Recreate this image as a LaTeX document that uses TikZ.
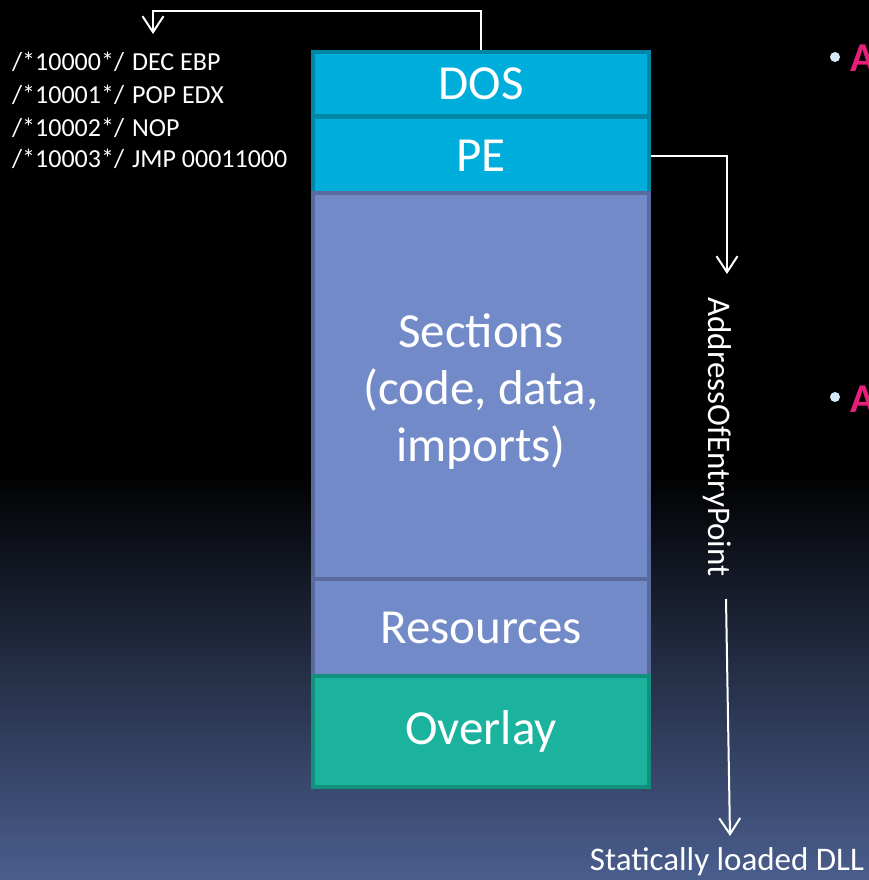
\documentclass[tikz,border=0pt]{standalone}
\usepackage{fontspec}
\setmainfont{Carlito}
\usetikzlibrary{arrows.meta}
\definecolor{bgbot}{HTML}{4A5E8E}
\definecolor{dosfill}{HTML}{00AEDB}
\definecolor{dosline}{HTML}{0087A8}
\definecolor{secfill}{HTML}{728AC8}
\definecolor{secline}{HTML}{5B6A9E}
\definecolor{ovfill}{HTML}{1BB39E}
\definecolor{ovline}{HTML}{12907E}
\definecolor{pinkA}{HTML}{E91E7A}
\definecolor{bulletc}{HTML}{D4EAFA}
\begin{document}
\begin{tikzpicture}[x=1pt,y=-1pt,
  seg/.style={rectangle, line width=4pt, minimum width=336pt, inner sep=0pt, text=white,
    font=\fontsize{49}{57}\selectfont, align=center},
  segtext/.style={inner sep=0pt, text=white, font=\fontsize{49}{57}\selectfont, align=center},
  arr/.style={draw=white, line width=2pt, -{Straight Barb[length=16pt,width=21pt,line width=2pt]}},
  code/.style={anchor=base west, text=white, inner sep=0pt, font=\fontsize{26}{30}\selectfont},
  lbl/.style={text=white, inner sep=0pt, font=\fontsize{33}{40}\selectfont},
  bul/.style={circle, fill=bulletc, minimum size=10pt, inner sep=0pt},
  pinkt/.style={anchor=base west, text=pinkA, inner sep=0pt, font=\fontsize{41}{48}\selectfont\bfseries}
]
\useasboundingbox (0,0) rectangle (869,880);
\fill[black] (0,0) rectangle (869,471);
\shade[top color=black, bottom color=bgbot] (0,470) rectangle (869,880);

% segments
\node[seg, fill=dosfill, draw=dosline, minimum height=64pt] (dos) at (481,84) {DOS};
\node[seg, fill=dosfill, draw=dosline, minimum height=77pt] (pe) at (481,155.5) {PE};
\node[seg, fill=secfill, draw=secline, minimum height=386pt] (sec) at (481,386) {};
\node[segtext] (sectext) at (481,392) {Sections\\(code, data,\\imports)};
\node[seg, fill=secfill, draw=secline, minimum height=97pt] (res) at (481,627.5) {Resources};
\node[seg, fill=ovfill, draw=ovline, minimum height=111pt] (ov) at (481,731.5) {Overlay};

% code listing
\node[code] (c1) at (12,71) {/*10000*/\hspace{8pt}DEC EBP};
\node[code] (c2) at (12,103) {/*10001*/\hspace{8pt}POP EDX};
\node[code] (c3) at (12,136) {/*10002*/\hspace{8pt}NOP};
\node[code] (c4) at (12,167) {/*10003*/\hspace{8pt}JMP 00011000};

% DOS arrow
\coordinate (dostop) at (481,11);
\coordinate (dosend) at (153,34);
\draw[arr] (dos.north) -- (dos.north |- dostop) -| (dosend);

% PE arrow
\coordinate (peend) at (727,274);
\draw[arr] (pe.east) -| (peend);

% AddressOfEntryPoint
\node[lbl, rotate=-90] (aoep) at (717,437) {AddressOfEntryPoint};

% DLL arrow
\coordinate (dllstart) at (726,599);
\coordinate (dllend) at (730,836);
\draw[arr] (dllstart) -- (dllend);
\node[lbl] (dll) at (727,862) {Statically loaded DLL};

% right bullets
\node[bul] (b1) at (835,57) {};
\node[pinkt] (a1) at (850,72) {A};
\node[bul] (b2) at (835,397) {};
\node[pinkt] (a2) at (850,412) {A};
\end{tikzpicture}
\end{document}
